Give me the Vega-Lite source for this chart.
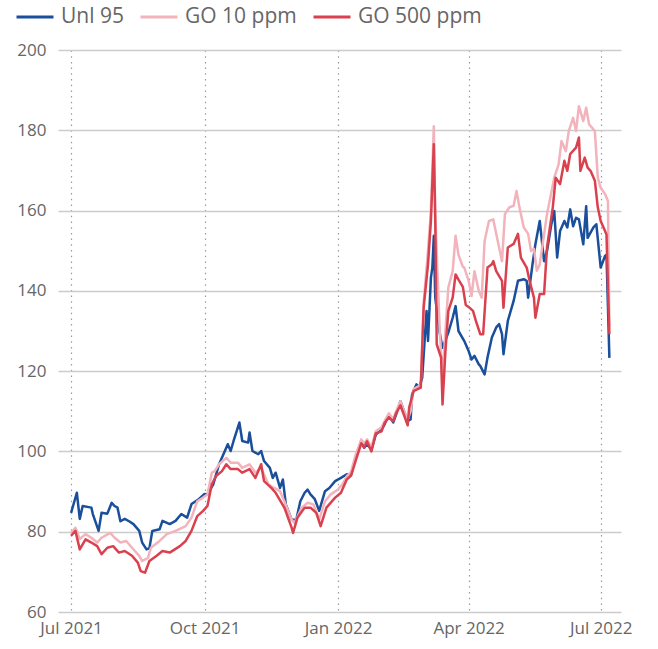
{
  "$schema": "https://vega.github.io/schema/vega-lite/v6.json",
  "width": 563,
  "height": 562,
  "autosize": {"type": "none"},
  "padding": {"left": 58, "top": 50, "right": 37, "bottom": 37},
  "background": "white",
  "config": {
    "view": {"stroke": null},
    "font": "Open Sans"
  },
  "data": {"values": [
    {"date":"2021-07-01","series":"Unl 95","value":84.7},
    {"date":"2021-07-05","series":"Unl 95","value":89.7},
    {"date":"2021-07-07","series":"Unl 95","value":83.2},
    {"date":"2021-07-09","series":"Unl 95","value":86.4},
    {"date":"2021-07-15","series":"Unl 95","value":86},
    {"date":"2021-07-16","series":"Unl 95","value":84.4},
    {"date":"2021-07-20","series":"Unl 95","value":80.2},
    {"date":"2021-07-22","series":"Unl 95","value":84.7},
    {"date":"2021-07-26","series":"Unl 95","value":84.5},
    {"date":"2021-07-29","series":"Unl 95","value":87.2},
    {"date":"2021-07-31","series":"Unl 95","value":86.4},
    {"date":"2021-08-02","series":"Unl 95","value":86},
    {"date":"2021-08-04","series":"Unl 95","value":82.6},
    {"date":"2021-08-07","series":"Unl 95","value":83.2},
    {"date":"2021-08-10","series":"Unl 95","value":82.6},
    {"date":"2021-08-13","series":"Unl 95","value":81.9},
    {"date":"2021-08-17","series":"Unl 95","value":80.2},
    {"date":"2021-08-19","series":"Unl 95","value":77.3},
    {"date":"2021-08-22","series":"Unl 95","value":75.6},
    {"date":"2021-08-24","series":"Unl 95","value":75.9},
    {"date":"2021-08-26","series":"Unl 95","value":80.2},
    {"date":"2021-08-31","series":"Unl 95","value":80.6},
    {"date":"2021-09-02","series":"Unl 95","value":82.7},
    {"date":"2021-09-07","series":"Unl 95","value":81.9},
    {"date":"2021-09-11","series":"Unl 95","value":82.7},
    {"date":"2021-09-15","series":"Unl 95","value":84.4},
    {"date":"2021-09-19","series":"Unl 95","value":83.5},
    {"date":"2021-09-22","series":"Unl 95","value":86.9},
    {"date":"2021-09-27","series":"Unl 95","value":88.1},
    {"date":"2021-10-01","series":"Unl 95","value":89.4},
    {"date":"2021-10-03","series":"Unl 95","value":89.3},
    {"date":"2021-10-07","series":"Unl 95","value":91.8},
    {"date":"2021-10-11","series":"Unl 95","value":96.8},
    {"date":"2021-10-15","series":"Unl 95","value":100.1},
    {"date":"2021-10-17","series":"Unl 95","value":101.8},
    {"date":"2021-10-19","series":"Unl 95","value":100.1},
    {"date":"2021-10-21","series":"Unl 95","value":102.6},
    {"date":"2021-10-25","series":"Unl 95","value":107.2},
    {"date":"2021-10-27","series":"Unl 95","value":102.6},
    {"date":"2021-10-31","series":"Unl 95","value":102.2},
    {"date":"2021-11-01","series":"Unl 95","value":104.7},
    {"date":"2021-11-03","series":"Unl 95","value":100.1},
    {"date":"2021-11-07","series":"Unl 95","value":99.3},
    {"date":"2021-11-09","series":"Unl 95","value":100.1},
    {"date":"2021-11-11","series":"Unl 95","value":97.6},
    {"date":"2021-11-15","series":"Unl 95","value":95.9},
    {"date":"2021-11-17","series":"Unl 95","value":93.4},
    {"date":"2021-11-19","series":"Unl 95","value":94.7},
    {"date":"2021-11-22","series":"Unl 95","value":90.9},
    {"date":"2021-11-24","series":"Unl 95","value":93},
    {"date":"2021-11-26","series":"Unl 95","value":86.8},
    {"date":"2021-11-30","series":"Unl 95","value":83},
    {"date":"2021-12-02","series":"Unl 95","value":83},
    {"date":"2021-12-03","series":"Unl 95","value":82.6},
    {"date":"2021-12-06","series":"Unl 95","value":87.6},
    {"date":"2021-12-09","series":"Unl 95","value":89.7},
    {"date":"2021-12-11","series":"Unl 95","value":90.5},
    {"date":"2021-12-13","series":"Unl 95","value":89.3},
    {"date":"2021-12-16","series":"Unl 95","value":88.1},
    {"date":"2021-12-19","series":"Unl 95","value":85.2},
    {"date":"2021-12-23","series":"Unl 95","value":90.1},
    {"date":"2021-12-26","series":"Unl 95","value":90.9},
    {"date":"2021-12-30","series":"Unl 95","value":92.6},
    {"date":"2022-01-03","series":"Unl 95","value":93.4},
    {"date":"2022-01-07","series":"Unl 95","value":94.3},
    {"date":"2022-01-10","series":"Unl 95","value":94.3},
    {"date":"2022-01-13","series":"Unl 95","value":98.4},
    {"date":"2022-01-17","series":"Unl 95","value":102.6},
    {"date":"2022-01-19","series":"Unl 95","value":100.9},
    {"date":"2022-01-21","series":"Unl 95","value":101.8},
    {"date":"2022-01-24","series":"Unl 95","value":100.5},
    {"date":"2022-01-27","series":"Unl 95","value":104.2},
    {"date":"2022-01-31","series":"Unl 95","value":105.5},
    {"date":"2022-02-02","series":"Unl 95","value":106.7},
    {"date":"2022-02-05","series":"Unl 95","value":109.2},
    {"date":"2022-02-08","series":"Unl 95","value":107.2},
    {"date":"2022-02-10","series":"Unl 95","value":109.2},
    {"date":"2022-02-13","series":"Unl 95","value":112.5},
    {"date":"2022-02-15","series":"Unl 95","value":110.5},
    {"date":"2022-02-18","series":"Unl 95","value":107.6},
    {"date":"2022-02-20","series":"Unl 95","value":108},
    {"date":"2022-02-21","series":"Unl 95","value":114.2},
    {"date":"2022-02-24","series":"Unl 95","value":116.7},
    {"date":"2022-02-26","series":"Unl 95","value":115.9},
    {"date":"2022-02-28","series":"Unl 95","value":118.4},
    {"date":"2022-03-03","series":"Unl 95","value":135},
    {"date":"2022-03-04","series":"Unl 95","value":127.5},
    {"date":"2022-03-06","series":"Unl 95","value":143.3},
    {"date":"2022-03-07","series":"Unl 95","value":145.8},
    {"date":"2022-03-08","series":"Unl 95","value":153.7},
    {"date":"2022-03-09","series":"Unl 95","value":138.3},
    {"date":"2022-03-12","series":"Unl 95","value":129.6},
    {"date":"2022-03-14","series":"Unl 95","value":125.8},
    {"date":"2022-03-18","series":"Unl 95","value":129.6},
    {"date":"2022-03-21","series":"Unl 95","value":133.3},
    {"date":"2022-03-23","series":"Unl 95","value":136.2},
    {"date":"2022-03-25","series":"Unl 95","value":130},
    {"date":"2022-03-29","series":"Unl 95","value":127.5},
    {"date":"2022-04-01","series":"Unl 95","value":125},
    {"date":"2022-04-03","series":"Unl 95","value":122.9},
    {"date":"2022-04-05","series":"Unl 95","value":123.8},
    {"date":"2022-04-08","series":"Unl 95","value":121.7},
    {"date":"2022-04-09","series":"Unl 95","value":121.3},
    {"date":"2022-04-12","series":"Unl 95","value":119.2},
    {"date":"2022-04-14","series":"Unl 95","value":123.4},
    {"date":"2022-04-17","series":"Unl 95","value":128.4},
    {"date":"2022-04-20","series":"Unl 95","value":130.9},
    {"date":"2022-04-22","series":"Unl 95","value":131.7},
    {"date":"2022-04-24","series":"Unl 95","value":129.2},
    {"date":"2022-04-25","series":"Unl 95","value":124.2},
    {"date":"2022-04-28","series":"Unl 95","value":132.5},
    {"date":"2022-05-02","series":"Unl 95","value":137.5},
    {"date":"2022-05-05","series":"Unl 95","value":142.5},
    {"date":"2022-05-09","series":"Unl 95","value":142.9},
    {"date":"2022-05-11","series":"Unl 95","value":142.5},
    {"date":"2022-05-12","series":"Unl 95","value":138.3},
    {"date":"2022-05-15","series":"Unl 95","value":146.6},
    {"date":"2022-05-17","series":"Unl 95","value":151.6},
    {"date":"2022-05-20","series":"Unl 95","value":157.4},
    {"date":"2022-05-23","series":"Unl 95","value":147.4},
    {"date":"2022-05-25","series":"Unl 95","value":149.9},
    {"date":"2022-05-28","series":"Unl 95","value":156.6},
    {"date":"2022-05-30","series":"Unl 95","value":159.9},
    {"date":"2022-06-01","series":"Unl 95","value":148.3},
    {"date":"2022-06-03","series":"Unl 95","value":154.9},
    {"date":"2022-06-06","series":"Unl 95","value":157.4},
    {"date":"2022-06-08","series":"Unl 95","value":155.8},
    {"date":"2022-06-10","series":"Unl 95","value":160.3},
    {"date":"2022-06-12","series":"Unl 95","value":156.1},
    {"date":"2022-06-14","series":"Unl 95","value":158.2},
    {"date":"2022-06-16","series":"Unl 95","value":157.8},
    {"date":"2022-06-19","series":"Unl 95","value":151.6},
    {"date":"2022-06-21","series":"Unl 95","value":161.1},
    {"date":"2022-06-22","series":"Unl 95","value":153.2},
    {"date":"2022-06-26","series":"Unl 95","value":155.8},
    {"date":"2022-06-28","series":"Unl 95","value":156.6},
    {"date":"2022-07-01","series":"Unl 95","value":145.8},
    {"date":"2022-07-04","series":"Unl 95","value":148.7},
    {"date":"2022-07-05","series":"Unl 95","value":149},
    {"date":"2022-07-07","series":"Unl 95","value":123.3},

    {"date":"2021-07-01","series":"GO 10 ppm","value":79.7},
    {"date":"2021-07-04","series":"GO 10 ppm","value":81},
    {"date":"2021-07-07","series":"GO 10 ppm","value":78.2},
    {"date":"2021-07-11","series":"GO 10 ppm","value":79.4},
    {"date":"2021-07-15","series":"GO 10 ppm","value":78.5},
    {"date":"2021-07-19","series":"GO 10 ppm","value":77.3},
    {"date":"2021-07-22","series":"GO 10 ppm","value":78.5},
    {"date":"2021-07-28","series":"GO 10 ppm","value":79.7},
    {"date":"2021-07-31","series":"GO 10 ppm","value":78.5},
    {"date":"2021-08-04","series":"GO 10 ppm","value":77.3},
    {"date":"2021-08-08","series":"GO 10 ppm","value":77.7},
    {"date":"2021-08-12","series":"GO 10 ppm","value":76},
    {"date":"2021-08-17","series":"GO 10 ppm","value":74},
    {"date":"2021-08-19","series":"GO 10 ppm","value":72.7},
    {"date":"2021-08-23","series":"GO 10 ppm","value":73.5},
    {"date":"2021-08-25","series":"GO 10 ppm","value":76},
    {"date":"2021-08-31","series":"GO 10 ppm","value":77.7},
    {"date":"2021-09-05","series":"GO 10 ppm","value":79.4},
    {"date":"2021-09-11","series":"GO 10 ppm","value":80.2},
    {"date":"2021-09-18","series":"GO 10 ppm","value":81.4},
    {"date":"2021-09-22","series":"GO 10 ppm","value":83.5},
    {"date":"2021-09-26","series":"GO 10 ppm","value":87.6},
    {"date":"2021-09-30","series":"GO 10 ppm","value":88.5},
    {"date":"2021-10-03","series":"GO 10 ppm","value":89.3},
    {"date":"2021-10-06","series":"GO 10 ppm","value":94.7},
    {"date":"2021-10-08","series":"GO 10 ppm","value":95.1},
    {"date":"2021-10-11","series":"GO 10 ppm","value":96.8},
    {"date":"2021-10-16","series":"GO 10 ppm","value":98.4},
    {"date":"2021-10-19","series":"GO 10 ppm","value":97.2},
    {"date":"2021-10-24","series":"GO 10 ppm","value":97.2},
    {"date":"2021-10-27","series":"GO 10 ppm","value":95.9},
    {"date":"2021-11-01","series":"GO 10 ppm","value":96.8},
    {"date":"2021-11-05","series":"GO 10 ppm","value":94.7},
    {"date":"2021-11-09","series":"GO 10 ppm","value":95.9},
    {"date":"2021-11-14","series":"GO 10 ppm","value":91.8},
    {"date":"2021-11-18","series":"GO 10 ppm","value":90.9},
    {"date":"2021-11-22","series":"GO 10 ppm","value":90.1},
    {"date":"2021-11-25","series":"GO 10 ppm","value":87.6},
    {"date":"2021-11-30","series":"GO 10 ppm","value":83},
    {"date":"2021-12-02","series":"GO 10 ppm","value":82.2},
    {"date":"2021-12-07","series":"GO 10 ppm","value":86},
    {"date":"2021-12-11","series":"GO 10 ppm","value":87.2},
    {"date":"2021-12-15","series":"GO 10 ppm","value":86.8},
    {"date":"2021-12-19","series":"GO 10 ppm","value":83},
    {"date":"2021-12-23","series":"GO 10 ppm","value":87.6},
    {"date":"2021-12-27","series":"GO 10 ppm","value":89.3},
    {"date":"2022-01-01","series":"GO 10 ppm","value":90.5},
    {"date":"2022-01-04","series":"GO 10 ppm","value":91.8},
    {"date":"2022-01-07","series":"GO 10 ppm","value":93.8},
    {"date":"2022-01-10","series":"GO 10 ppm","value":95},
    {"date":"2022-01-13","series":"GO 10 ppm","value":99},
    {"date":"2022-01-17","series":"GO 10 ppm","value":103},
    {"date":"2022-01-19","series":"GO 10 ppm","value":102},
    {"date":"2022-01-21","series":"GO 10 ppm","value":103},
    {"date":"2022-01-24","series":"GO 10 ppm","value":101},
    {"date":"2022-01-27","series":"GO 10 ppm","value":105},
    {"date":"2022-01-31","series":"GO 10 ppm","value":106},
    {"date":"2022-02-02","series":"GO 10 ppm","value":107.5},
    {"date":"2022-02-05","series":"GO 10 ppm","value":109.5},
    {"date":"2022-02-08","series":"GO 10 ppm","value":108},
    {"date":"2022-02-10","series":"GO 10 ppm","value":110},
    {"date":"2022-02-13","series":"GO 10 ppm","value":112.5},
    {"date":"2022-02-15","series":"GO 10 ppm","value":110.5},
    {"date":"2022-02-18","series":"GO 10 ppm","value":108},
    {"date":"2022-02-20","series":"GO 10 ppm","value":110},
    {"date":"2022-02-22","series":"GO 10 ppm","value":115.5},
    {"date":"2022-02-27","series":"GO 10 ppm","value":116.5},
    {"date":"2022-03-01","series":"GO 10 ppm","value":137},
    {"date":"2022-03-04","series":"GO 10 ppm","value":150},
    {"date":"2022-03-06","series":"GO 10 ppm","value":160},
    {"date":"2022-03-08","series":"GO 10 ppm","value":181},
    {"date":"2022-03-09","series":"GO 10 ppm","value":159},
    {"date":"2022-03-12","series":"GO 10 ppm","value":130.8},
    {"date":"2022-03-14","series":"GO 10 ppm","value":118},
    {"date":"2022-03-16","series":"GO 10 ppm","value":130},
    {"date":"2022-03-18","series":"GO 10 ppm","value":140.8},
    {"date":"2022-03-21","series":"GO 10 ppm","value":144.9},
    {"date":"2022-03-23","series":"GO 10 ppm","value":153.7},
    {"date":"2022-03-25","series":"GO 10 ppm","value":149},
    {"date":"2022-03-28","series":"GO 10 ppm","value":146},
    {"date":"2022-03-29","series":"GO 10 ppm","value":145.8},
    {"date":"2022-04-01","series":"GO 10 ppm","value":142.5},
    {"date":"2022-04-03","series":"GO 10 ppm","value":138.7},
    {"date":"2022-04-05","series":"GO 10 ppm","value":144.9},
    {"date":"2022-04-08","series":"GO 10 ppm","value":140},
    {"date":"2022-04-10","series":"GO 10 ppm","value":138.3},
    {"date":"2022-04-12","series":"GO 10 ppm","value":152.4},
    {"date":"2022-04-15","series":"GO 10 ppm","value":157.4},
    {"date":"2022-04-18","series":"GO 10 ppm","value":157.8},
    {"date":"2022-04-20","series":"GO 10 ppm","value":154.2},
    {"date":"2022-04-24","series":"GO 10 ppm","value":147.4},
    {"date":"2022-04-26","series":"GO 10 ppm","value":159.1},
    {"date":"2022-04-29","series":"GO 10 ppm","value":160.8},
    {"date":"2022-05-02","series":"GO 10 ppm","value":161.2},
    {"date":"2022-05-04","series":"GO 10 ppm","value":164.9},
    {"date":"2022-05-06","series":"GO 10 ppm","value":160.8},
    {"date":"2022-05-09","series":"GO 10 ppm","value":155.8},
    {"date":"2022-05-12","series":"GO 10 ppm","value":154.2},
    {"date":"2022-05-14","series":"GO 10 ppm","value":149.9},
    {"date":"2022-05-16","series":"GO 10 ppm","value":150.5},
    {"date":"2022-05-18","series":"GO 10 ppm","value":145},
    {"date":"2022-05-20","series":"GO 10 ppm","value":146.6},
    {"date":"2022-05-25","series":"GO 10 ppm","value":159.1},
    {"date":"2022-05-30","series":"GO 10 ppm","value":168.2},
    {"date":"2022-06-02","series":"GO 10 ppm","value":171.5},
    {"date":"2022-06-04","series":"GO 10 ppm","value":177.3},
    {"date":"2022-06-07","series":"GO 10 ppm","value":174.8},
    {"date":"2022-06-09","series":"GO 10 ppm","value":179.8},
    {"date":"2022-06-12","series":"GO 10 ppm","value":183.1},
    {"date":"2022-06-14","series":"GO 10 ppm","value":179.8},
    {"date":"2022-06-16","series":"GO 10 ppm","value":186},
    {"date":"2022-06-19","series":"GO 10 ppm","value":182.3},
    {"date":"2022-06-21","series":"GO 10 ppm","value":185.6},
    {"date":"2022-06-23","series":"GO 10 ppm","value":181.5},
    {"date":"2022-06-27","series":"GO 10 ppm","value":179.8},
    {"date":"2022-06-29","series":"GO 10 ppm","value":168.2},
    {"date":"2022-07-01","series":"GO 10 ppm","value":165.7},
    {"date":"2022-07-04","series":"GO 10 ppm","value":164.1},
    {"date":"2022-07-06","series":"GO 10 ppm","value":162.4},
    {"date":"2022-07-07","series":"GO 10 ppm","value":131},

    {"date":"2021-07-01","series":"GO 500 ppm","value":79},
    {"date":"2021-07-04","series":"GO 500 ppm","value":80.2},
    {"date":"2021-07-07","series":"GO 500 ppm","value":75.6},
    {"date":"2021-07-11","series":"GO 500 ppm","value":78.1},
    {"date":"2021-07-15","series":"GO 500 ppm","value":77.3},
    {"date":"2021-07-19","series":"GO 500 ppm","value":76.4},
    {"date":"2021-07-22","series":"GO 500 ppm","value":74.4},
    {"date":"2021-07-26","series":"GO 500 ppm","value":76},
    {"date":"2021-07-30","series":"GO 500 ppm","value":76.4},
    {"date":"2021-08-03","series":"GO 500 ppm","value":74.8},
    {"date":"2021-08-07","series":"GO 500 ppm","value":75.2},
    {"date":"2021-08-12","series":"GO 500 ppm","value":74},
    {"date":"2021-08-16","series":"GO 500 ppm","value":72.3},
    {"date":"2021-08-18","series":"GO 500 ppm","value":70.2},
    {"date":"2021-08-21","series":"GO 500 ppm","value":69.8},
    {"date":"2021-08-24","series":"GO 500 ppm","value":72.7},
    {"date":"2021-08-29","series":"GO 500 ppm","value":74},
    {"date":"2021-09-02","series":"GO 500 ppm","value":75.2},
    {"date":"2021-09-07","series":"GO 500 ppm","value":74.8},
    {"date":"2021-09-14","series":"GO 500 ppm","value":76.4},
    {"date":"2021-09-18","series":"GO 500 ppm","value":77.7},
    {"date":"2021-09-22","series":"GO 500 ppm","value":80.2},
    {"date":"2021-09-26","series":"GO 500 ppm","value":83.9},
    {"date":"2021-09-30","series":"GO 500 ppm","value":85.2},
    {"date":"2021-10-03","series":"GO 500 ppm","value":86.4},
    {"date":"2021-10-06","series":"GO 500 ppm","value":91.8},
    {"date":"2021-10-09","series":"GO 500 ppm","value":93.9},
    {"date":"2021-10-13","series":"GO 500 ppm","value":95.1},
    {"date":"2021-10-16","series":"GO 500 ppm","value":96.8},
    {"date":"2021-10-19","series":"GO 500 ppm","value":95.6},
    {"date":"2021-10-24","series":"GO 500 ppm","value":95.6},
    {"date":"2021-10-27","series":"GO 500 ppm","value":94.7},
    {"date":"2021-11-01","series":"GO 500 ppm","value":95.6},
    {"date":"2021-11-05","series":"GO 500 ppm","value":93.4},
    {"date":"2021-11-09","series":"GO 500 ppm","value":96.8},
    {"date":"2021-11-11","series":"GO 500 ppm","value":92.6},
    {"date":"2021-11-16","series":"GO 500 ppm","value":90.9},
    {"date":"2021-11-19","series":"GO 500 ppm","value":89.7},
    {"date":"2021-11-25","series":"GO 500 ppm","value":86},
    {"date":"2021-11-30","series":"GO 500 ppm","value":81},
    {"date":"2021-12-01","series":"GO 500 ppm","value":79.7},
    {"date":"2021-12-04","series":"GO 500 ppm","value":83.5},
    {"date":"2021-12-09","series":"GO 500 ppm","value":86},
    {"date":"2021-12-13","series":"GO 500 ppm","value":86},
    {"date":"2021-12-17","series":"GO 500 ppm","value":84.7},
    {"date":"2021-12-20","series":"GO 500 ppm","value":81.4},
    {"date":"2021-12-24","series":"GO 500 ppm","value":86},
    {"date":"2021-12-30","series":"GO 500 ppm","value":88.5},
    {"date":"2022-01-03","series":"GO 500 ppm","value":89.7},
    {"date":"2022-01-07","series":"GO 500 ppm","value":93},
    {"date":"2022-01-10","series":"GO 500 ppm","value":94},
    {"date":"2022-01-13","series":"GO 500 ppm","value":97.5},
    {"date":"2022-01-17","series":"GO 500 ppm","value":102},
    {"date":"2022-01-19","series":"GO 500 ppm","value":101},
    {"date":"2022-01-21","series":"GO 500 ppm","value":102.5},
    {"date":"2022-01-24","series":"GO 500 ppm","value":100},
    {"date":"2022-01-27","series":"GO 500 ppm","value":104.5},
    {"date":"2022-01-31","series":"GO 500 ppm","value":105},
    {"date":"2022-02-02","series":"GO 500 ppm","value":107},
    {"date":"2022-02-05","series":"GO 500 ppm","value":108.5},
    {"date":"2022-02-08","series":"GO 500 ppm","value":107.5},
    {"date":"2022-02-10","series":"GO 500 ppm","value":109.5},
    {"date":"2022-02-13","series":"GO 500 ppm","value":111.5},
    {"date":"2022-02-15","series":"GO 500 ppm","value":109.5},
    {"date":"2022-02-18","series":"GO 500 ppm","value":106.5},
    {"date":"2022-02-19","series":"GO 500 ppm","value":110.9},
    {"date":"2022-02-22","series":"GO 500 ppm","value":115},
    {"date":"2022-02-27","series":"GO 500 ppm","value":115.9},
    {"date":"2022-03-01","series":"GO 500 ppm","value":135.8},
    {"date":"2022-03-04","series":"GO 500 ppm","value":146.6},
    {"date":"2022-03-06","series":"GO 500 ppm","value":157.4},
    {"date":"2022-03-08","series":"GO 500 ppm","value":176.5},
    {"date":"2022-03-09","series":"GO 500 ppm","value":157.4},
    {"date":"2022-03-10","series":"GO 500 ppm","value":126.7},
    {"date":"2022-03-13","series":"GO 500 ppm","value":123.4},
    {"date":"2022-03-14","series":"GO 500 ppm","value":111.7},
    {"date":"2022-03-16","series":"GO 500 ppm","value":125},
    {"date":"2022-03-18","series":"GO 500 ppm","value":135},
    {"date":"2022-03-21","series":"GO 500 ppm","value":138.3},
    {"date":"2022-03-23","series":"GO 500 ppm","value":144.1},
    {"date":"2022-03-25","series":"GO 500 ppm","value":142.8},
    {"date":"2022-03-28","series":"GO 500 ppm","value":141},
    {"date":"2022-03-30","series":"GO 500 ppm","value":136.5},
    {"date":"2022-04-01","series":"GO 500 ppm","value":136},
    {"date":"2022-04-04","series":"GO 500 ppm","value":135},
    {"date":"2022-04-06","series":"GO 500 ppm","value":132.5},
    {"date":"2022-04-09","series":"GO 500 ppm","value":129.2},
    {"date":"2022-04-11","series":"GO 500 ppm","value":129.2},
    {"date":"2022-04-14","series":"GO 500 ppm","value":145.8},
    {"date":"2022-04-17","series":"GO 500 ppm","value":146.6},
    {"date":"2022-04-18","series":"GO 500 ppm","value":147.4},
    {"date":"2022-04-20","series":"GO 500 ppm","value":144.9},
    {"date":"2022-04-24","series":"GO 500 ppm","value":142.5},
    {"date":"2022-04-25","series":"GO 500 ppm","value":135.8},
    {"date":"2022-04-28","series":"GO 500 ppm","value":150.8},
    {"date":"2022-05-02","series":"GO 500 ppm","value":151.7},
    {"date":"2022-05-05","series":"GO 500 ppm","value":154.2},
    {"date":"2022-05-07","series":"GO 500 ppm","value":148.3},
    {"date":"2022-05-11","series":"GO 500 ppm","value":145.8},
    {"date":"2022-05-13","series":"GO 500 ppm","value":142.5},
    {"date":"2022-05-16","series":"GO 500 ppm","value":138.3},
    {"date":"2022-05-17","series":"GO 500 ppm","value":133.3},
    {"date":"2022-05-20","series":"GO 500 ppm","value":139.2},
    {"date":"2022-05-23","series":"GO 500 ppm","value":139.2},
    {"date":"2022-05-25","series":"GO 500 ppm","value":150.8},
    {"date":"2022-05-29","series":"GO 500 ppm","value":160.8},
    {"date":"2022-05-31","series":"GO 500 ppm","value":168.2},
    {"date":"2022-06-03","series":"GO 500 ppm","value":166.6},
    {"date":"2022-06-06","series":"GO 500 ppm","value":172.4},
    {"date":"2022-06-08","series":"GO 500 ppm","value":169.9},
    {"date":"2022-06-10","series":"GO 500 ppm","value":174.1},
    {"date":"2022-06-14","series":"GO 500 ppm","value":175.7},
    {"date":"2022-06-16","series":"GO 500 ppm","value":178.2},
    {"date":"2022-06-17","series":"GO 500 ppm","value":169.9},
    {"date":"2022-06-20","series":"GO 500 ppm","value":173.2},
    {"date":"2022-06-22","series":"GO 500 ppm","value":170.7},
    {"date":"2022-06-24","series":"GO 500 ppm","value":169.9},
    {"date":"2022-06-27","series":"GO 500 ppm","value":167.4},
    {"date":"2022-06-29","series":"GO 500 ppm","value":160.8},
    {"date":"2022-07-01","series":"GO 500 ppm","value":157.4},
    {"date":"2022-07-04","series":"GO 500 ppm","value":154.9},
    {"date":"2022-07-05","series":"GO 500 ppm","value":154},
    {"date":"2022-07-07","series":"GO 500 ppm","value":129.2}
  ]},
  "mark": {"type": "line", "strokeWidth": 2.5, "strokeJoin": "round"},
  "encoding": {
    "x": {
      "field": "date", "type": "temporal",
      "scale": {"domain": [{"year": 2021, "month": "jun", "date": 22}, {"year": 2022, "month": "jul", "date": 15}]},
      "axis": {
        "title": null,
        "values": [{"year": 2021, "month": "jul", "date": 1}, {"year": 2021, "month": "oct", "date": 1}, {"year": 2022, "month": "jan", "date": 1}, {"year": 2022, "month": "apr", "date": 1}, {"year": 2022, "month": "jul", "date": 1}],
        "format": "%b %Y",
        "domain": false, "ticks": false,
        "labelPadding": 8, "labelFontSize": 17, "labelColor": "#666666", "labelFont": "Open Sans",
        "labelFlush": false,
        "grid": true, "gridDash": [1.5, 4.2], "gridColor": "#9a9a9a", "gridWidth": 1.2
      }
    },
    "y": {
      "field": "value", "type": "quantitative",
      "scale": {"domain": [60, 200], "nice": false, "zero": false},
      "axis": {
        "title": null,
        "values": [60, 80, 100, 120, 140, 160, 180, 200],
        "domain": false, "ticks": false,
        "labelPadding": 12, "labelFontSize": 17, "labelColor": "#666666", "labelFont": "Open Sans",
        "grid": true, "gridColor": "#cccccc", "gridWidth": 1.5
      }
    },
    "color": {
      "field": "series", "type": "nominal",
      "scale": {"domain": ["Unl 95", "GO 10 ppm", "GO 500 ppm"], "range": ["#1a4f9c", "#f2b3bc", "#d9414e"]},
      "legend": {
        "orient": "none", "legendX": -43, "legendY": -53, "direction": "horizontal",
        "title": null, "padding": 0,
        "symbolType": "stroke", "symbolSize": 1369, "symbolStrokeWidth": 3,
        "labelFontSize": 21, "labelFont": "Open Sans", "labelColor": "#666666",
        "labelOffset": 6, "columnPadding": 10
      }
    }
  }
}
